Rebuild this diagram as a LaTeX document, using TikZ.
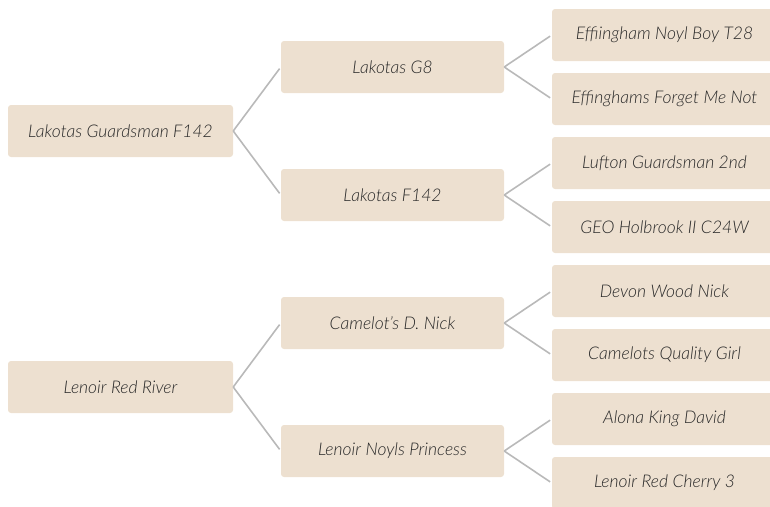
\documentclass[tikz,border=0pt]{standalone}
\usepackage{fontspec}
\setmainfont{Lato}[ItalicFont={Lato Light Italic}]
\usepackage{tikz}

\definecolor{boxfill}{RGB}{237,224,208}
\definecolor{boxtext}{RGB}{40,40,40}
\definecolor{linkgray}{RGB}{185,185,185}

\tikzset{
  dog/.style={rectangle, rounded corners=3pt, fill=boxfill, text=boxtext,
    minimum width=225pt, minimum height=52pt, inner sep=0pt,
    font=\fontsize{17.5}{19}\selectfont\itshape},
  link/.style={draw=linkgray, line width=1.6pt, shorten >=2pt}
}

\begin{document}
\begin{tikzpicture}[x=1pt,y=-1pt]
%\draw[step=50,gray,very thin] (0,0) grid (770,506);
\useasboundingbox (0,0) rectangle (770,506);

\node[dog] (sire)  at (120.5,131) {Lakotas Guardsman F142};
\node[dog] (dam)   at (120.5,387) {Lenoir Red River};

\node[dog, minimum width=223pt] (ss) at (392.5,67)  {Lakotas G8};
\node[dog, minimum width=223pt] (sd) at (392.5,195) {Lakotas F142};
\node[dog, minimum width=223pt] (ds) at (392.5,323) {Camelot's D. Nick};
\node[dog, minimum width=223pt] (dd) at (392.5,451) {Lenoir Noyls Princess};

\node[dog] (sss) at (664.5,35)  {Effiingham Noyl Boy T28};
\node[dog] (ssd) at (664.5,99)  {Effinghams Forget Me Not};
\node[dog] (sds) at (664.5,163) {Lufton Guardsman 2nd};
\node[dog] (sdd) at (664.5,227) {GEO Holbrook II C24W};
\node[dog] (dss) at (664.5,291) {Devon Wood Nick};
\node[dog] (dsd) at (664.5,355) {Camelots Quality Girl};
\node[dog] (dds) at (664.5,419) {Alona King David};
\node[dog] (ddd) at (664.5,483) {Lenoir Red Cherry 3};

\foreach \p/\c in {sire/ss,sire/sd,dam/ds,dam/dd,ss/sss,ss/ssd,sd/sds,sd/sdd,ds/dss,ds/dsd,dd/dds,dd/ddd}
  \draw[link] (\p.east) -- (\c.west);

\end{tikzpicture}
\end{document}
